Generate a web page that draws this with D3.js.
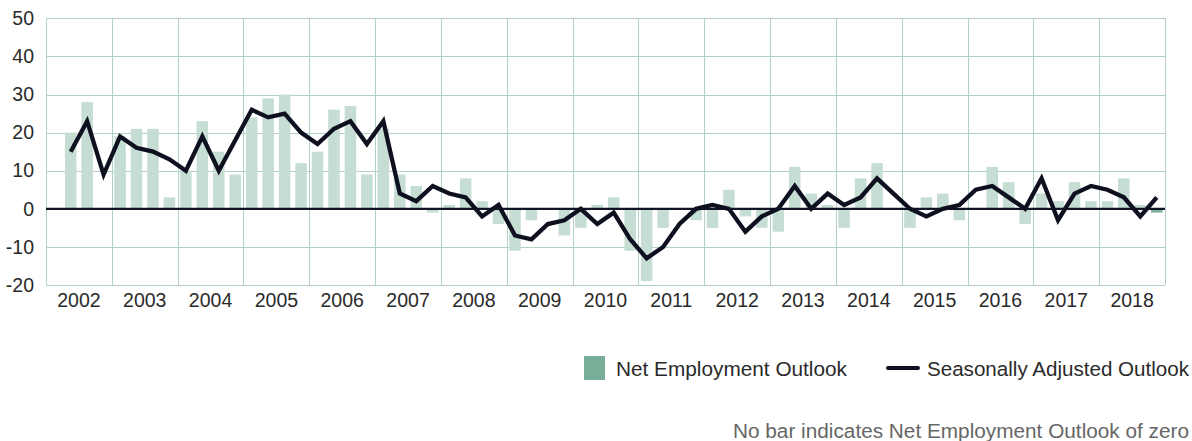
<!DOCTYPE html>
<html>
<head>
<meta charset="utf-8">
<script src="https://cdn.jsdelivr.net/npm/d3@7"></script>
<style>
  html, body { margin: 0; padding: 0; background: #fff; }
  svg { display: block; }
  text { font-family: "Liberation Sans", Arial, sans-serif; }
</style>
</head>
<body>
<svg id="chart" width="1192" height="441"></svg>
<script>
// ---- data ----
const years = ["2002","2003","2004","2005","2006","2007","2008","2009","2010","2011","2012","2013","2014","2015","2016","2017","2018"];
const quarters = ["Q1","Q2","Q3","Q4"];
// Net Employment Outlook (bars), 2002 Q1 .. 2018 Q4 (null = no survey)
const netOutlook = [
  null, 20, 28, 0,
  19, 21, 21, 3,
  10, 23, 15, 9,
  24, 29, 30, 12,
  15, 26, 27, 9,
  21, 9, 6, -1,
  1, 8, 2, -4,
  -11, -3, 0, -7,
  -5, 1, 3, -11,
  -19, -5, 0, -3,
  -5, 5, -2, -5,
  -6, 11, 4, 1,
  -5, 8, 12, 0,
  -5, 3, 4, -3,
  0, 11, 7, -4,
  4, 2, 7, 2,
  2, 8, 1, -1
];
// Seasonally Adjusted Outlook (line)
const seasonallyAdjusted = [
  null, 15, 23, 9,
  19, 16, 15, 13,
  10, 19, 10, 18,
  26, 24, 25, 20,
  17, 21, 23, 17,
  23, 4, 2, 6,
  4, 3, -2, 1,
  -7, -8, -4, -3,
  0, -4, -1, -8,
  -13, -10, -4, 0,
  1, 0, -6, -2,
  0, 6, 0, 4,
  1, 3, 8, 4,
  0, -2, 0, 1,
  5, 6, 3, 0,
  8, -3, 4, 6,
  5, 3, -2, 3
];
const yTicks = [-20, -10, 0, 10, 20, 30, 40, 50];
const legendLabels = ["Net Employment Outlook", "Seasonally Adjusted Outlook"];
const footnote = "No bar indicates Net Employment Outlook of zero";

// ---- build ----
const periods = [];
years.forEach(yr => quarters.forEach(q => periods.push(yr + " " + q)));
const rows = periods.map((p, i) => ({ p, i, bar: netOutlook[i], line: seasonallyAdjusted[i] }));

const svg = d3.select("#chart");
const mLeft = 46, mRight = 1165, mTop = 18.3, mBottom = 285;

const x = d3.scaleBand().domain(periods).range([mLeft, mRight]).paddingInner(0.3).paddingOuter(0.15);
const xYear = d3.scaleBand().domain(years).range([mLeft, mRight]);
const y = d3.scaleLinear().domain([-20, 50]).range([mBottom, mTop]);

const gridColor = "#b0d2c5";
const textColor = "#2a2a2a";
const g = svg.append("g");

// horizontal grid
g.append("g").selectAll("line").data(yTicks).join("line")
  .attr("x1", mLeft).attr("x2", mRight)
  .attr("y1", d => Math.round(y(d)) + 0.5).attr("y2", d => Math.round(y(d)) + 0.5)
  .attr("stroke", gridColor).attr("stroke-width", 1);

// vertical grid (year boundaries)
const vLines = years.map(yr => xYear(yr)).concat([mRight]);
g.append("g").selectAll("line").data(vLines).join("line")
  .attr("x1", d => Math.round(d) + 0.5).attr("x2", d => Math.round(d) + 0.5)
  .attr("y1", mTop).attr("y2", mBottom)
  .attr("stroke", gridColor).attr("stroke-width", 1);

// y labels
const yAxis = d3.axisLeft(y).tickValues(yTicks).tickSize(0).tickPadding(0).tickFormat(d => String(d));
const ya = svg.append("g").attr("transform", `translate(34,0)`).call(yAxis);
ya.select(".domain").remove();
ya.selectAll("text").attr("font-size", 19.5).attr("fill", textColor)
  .style("font-family", '"Liberation Sans", Arial, sans-serif');

// x labels (year centered)
const xAxis = d3.axisBottom(xYear).tickSize(0).tickPadding(0);
const xa = svg.append("g").attr("transform", `translate(0,${mBottom + 8})`).call(xAxis);
xa.select(".domain").remove();
xa.selectAll("text").attr("font-size", 19.5).attr("fill", textColor).attr("dy", "0.71em")
  .style("font-family", '"Liberation Sans", Arial, sans-serif');

// bars
const lastIdx = rows.length - 1;
g.append("g").selectAll("rect").data(rows.filter(r => r.bar !== null && r.bar !== 0)).join("rect")
  .attr("x", d => x(d.p))
  .attr("width", x.bandwidth())
  .attr("y", d => y(Math.max(0, d.bar)))
  .attr("height", d => Math.abs(y(d.bar) - y(0)))
  .attr("fill", d => d.i === lastIdx ? "#7db19d" : "#c5ddd3");

// zero line
g.append("line").attr("x1", mLeft).attr("x2", mRight)
  .attr("y1", y(0)).attr("y2", y(0))
  .attr("stroke", "#111426").attr("stroke-width", 2.2);

// seasonally adjusted line
const lineGen = d3.line()
  .defined(d => d.line !== null)
  .x(d => x(d.p) + x.bandwidth() / 2)
  .y(d => y(d.line));
g.append("path").datum(rows).attr("d", lineGen)
  .attr("fill", "none").attr("stroke", "#0e1020").attr("stroke-width", 4.3)
  .attr("stroke-linejoin", "miter").attr("stroke-miterlimit", 4);

// legend
const lg = svg.append("g");
lg.append("rect").attr("x", 584).attr("y", 356).attr("width", 21).attr("height", 24).attr("fill", "#79ae99");
lg.append("text").attr("x", 616).attr("y", 376).attr("font-size", 20.5).attr("fill", textColor)
  .attr("textLength", 231).attr("lengthAdjust", "spacingAndGlyphs").text(legendLabels[0]);
lg.append("line").attr("x1", 888).attr("x2", 918).attr("y1", 368).attr("y2", 368)
  .attr("stroke", "#0e1020").attr("stroke-width", 4).attr("stroke-linecap", "round");
lg.append("text").attr("x", 927).attr("y", 376).attr("font-size", 20.5).attr("fill", textColor)
  .attr("textLength", 262).attr("lengthAdjust", "spacingAndGlyphs").text(legendLabels[1]);

// footnote
svg.append("text").attr("x", 733).attr("y", 438)
  .attr("font-size", 20).attr("fill", "#666")
  .attr("textLength", 456).attr("lengthAdjust", "spacingAndGlyphs").text(footnote);
</script>
</body>
</html>
